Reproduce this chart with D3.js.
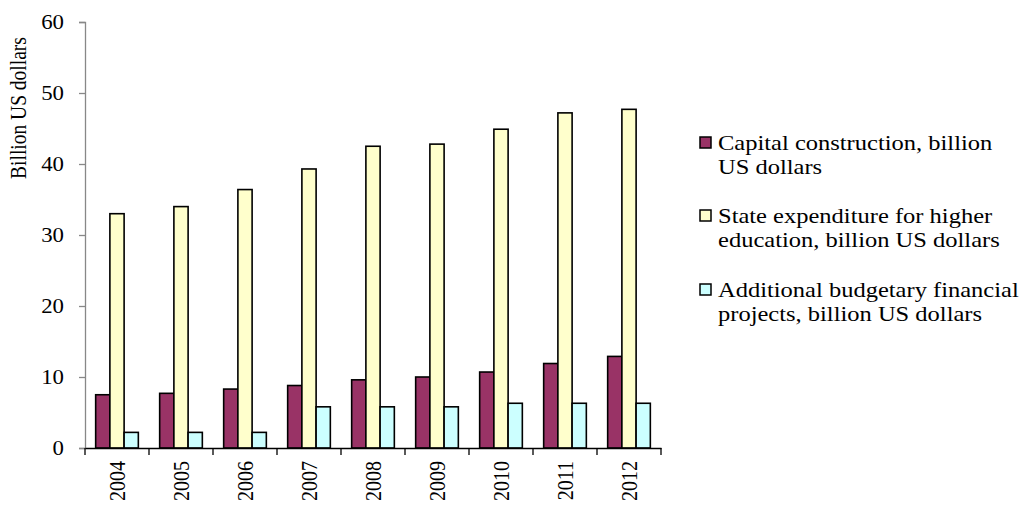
<!DOCTYPE html>
<html><head><meta charset="utf-8">
<script src="https://cdn.jsdelivr.net/npm/d3@7"></script>
<style>body{margin:0;background:#fff;}</style>
</head><body>
<svg id="c" width="1024" height="506"></svg>
<script>
const years = ["2004","2005","2006","2007","2008","2009","2010","2011","2012"];
const capital = [7.5, 7.7, 8.3, 8.8, 9.6, 10.0, 10.7, 11.9, 12.9];
const stateExp = [33.0, 34.0, 36.4, 39.3, 42.5, 42.8, 44.9, 47.2, 47.7];
const additional = [2.2, 2.2, 2.2, 5.8, 5.8, 5.8, 6.3, 6.3, 6.3];
const seriesNames = [
  ["Capital construction, billion", "US dollars"],
  ["State expenditure for higher", "education, billion US dollars"],
  ["Additional budgetary financial", "projects, billion US dollars"]
];
const colors = ["#993366", "#FFFFCC", "#CCFFFF"];
const yTicks = [0, 10, 20, 30, 40, 50, 60];

const FONT = "'Liberation Serif','Times New Roman',serif";
const SX = 1.14;
const series = [capital, stateExp, additional];
const svg = d3.select("#c");
const x0 = 85, x1 = 661, yTop = 22, yBot = 448;
const x = d3.scaleBand().domain(years).range([x0, x1]).paddingInner(0).paddingOuter(0);
const y = d3.scaleLinear().domain([0, 60]).range([yBot, yTop]);
const inner = d3.scaleBand().domain([0,1,2]).range([0, x.bandwidth()]).paddingInner(0).paddingOuter(0.75);

// bars
years.forEach((yr, i) => {
  series.forEach((s, j) => {
    svg.append("rect")
      .attr("x", x(yr) + inner(j))
      .attr("y", y(s[i]))
      .attr("width", inner.bandwidth())
      .attr("height", y(0) - y(s[i]))
      .attr("fill", colors[j])
      .attr("stroke", "#000")
      .attr("stroke-width", 1.6);
  });
});

// y axis
const ya = svg.append("g").attr("transform", `translate(${x0},0)`)
  .call(d3.axisLeft(y).tickValues(yTicks).tickSize(6));
ya.select(".domain").attr("stroke", "#888").attr("stroke-width", 1.3);
ya.selectAll(".tick line").attr("stroke", "#888").attr("stroke-width", 1.3);
ya.selectAll(".tick text").attr("font-size", 20).attr("fill", "#000")
  .style("font-family", FONT)
  .attr("x", -21 / SX).attr("dy", "0.34em")
  .attr("transform", `scale(${SX},1)`);

// x axis
const xa = svg.append("g").attr("transform", `translate(0,${yBot})`)
  .call(d3.axisBottom(x).tickSize(0).tickFormat(d => d));
xa.select(".domain").attr("stroke", "#000").attr("stroke-width", 1.6);
xa.selectAll(".tick text").attr("font-size", 20).attr("fill", "#000")
  .style("font-family", FONT)
  .attr("transform", `scale(${SX},1) rotate(-90)`)
  .attr("text-anchor", "end")
  .attr("x", -13).attr("y", 0).attr("dy", "0.34em");
// boundary ticks
const bounds = years.map(d => x(d)).concat([x1]);
svg.append("g").selectAll("line").data(bounds).join("line")
  .attr("x1", d => d).attr("x2", d => d)
  .attr("y1", yBot).attr("y2", yBot + 7)
  .attr("stroke", "#000").attr("stroke-width", 1.3);

// y label
svg.append("text")
  .attr("transform", `translate(26,108) scale(${SX},1) rotate(-90)`)
  .attr("text-anchor", "middle")
  .attr("font-size", 19.5)
  .style("font-family", FONT)
  .text("Billion US dollars");

// legend
const legY = [150, 223, 297];
seriesNames.forEach((lines, j) => {
  svg.append("rect").attr("x", 700).attr("y", legY[j] - 13).attr("width", 11).attr("height", 11)
    .attr("fill", colors[j]).attr("stroke", "#000").attr("stroke-width", 1.5);
  const g = svg.append("g").attr("transform", `translate(718,${legY[j]}) scale(${SX},1)`);
  const t = g.append("text").attr("x", 0).attr("y", 0).attr("font-size", 21.5)
    .style("font-family", FONT);
  lines.forEach((l, k) => {
    t.append("tspan").attr("x", 0).attr("dy", k === 0 ? 0 : 24.5).text(l);
  });
});
</script>
</body></html>
